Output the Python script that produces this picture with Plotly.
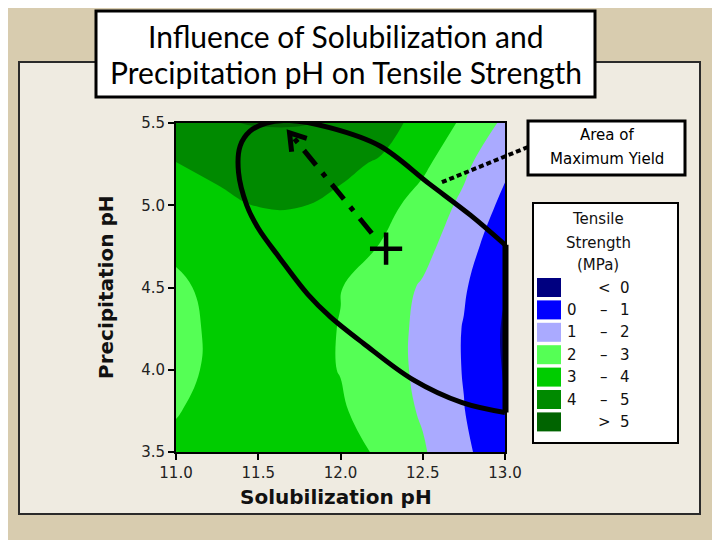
import plotly.graph_objects as go

# ------------------------------------------------------------
# Data (response surface, Tensile Strength MPa)
# ------------------------------------------------------------
sol_ph = [11.0, 11.25, 11.5, 11.75, 12.0, 12.25, 12.5, 12.75, 13.0]
prec_ph = [3.5, 3.75, 4.0, 4.25, 4.5, 4.75, 5.0, 5.25, 5.5]

# rows = prec_ph, columns = sol_ph
tensile = [
    [3.20, 3.40, 3.55, 3.45, 3.30, 2.88, 2.10, 1.20, 0.30],
    [2.95, 3.30, 3.45, 3.35, 3.12, 2.50, 1.90, 1.03, 0.03],
    [2.65, 3.25, 3.40, 3.30, 2.97, 2.40, 1.80, 0.95, -0.08],
    [2.60, 3.25, 3.40, 3.30, 2.97, 2.40, 1.80, 0.95, -0.12],
    [2.80, 3.30, 3.45, 3.40, 3.03, 2.50, 1.90, 1.10, 0.05],
    [3.20, 3.50, 3.65, 3.60, 3.40, 2.95, 2.30, 1.40, 0.35],
    [3.55, 3.80, 4.02, 4.03, 3.80, 3.35, 2.60, 1.80, 0.75],
    [3.97, 4.20, 4.55, 4.55, 4.20, 3.88, 3.20, 2.20, 1.20],
    [4.55, 4.95, 5.04, 5.04, 4.90, 4.40, 3.65, 2.85, 1.80],
]

band_colors = ["#000080", "#0000ff", "#aaaaff", "#55ff55", "#00cc00", "#008a00", "#006400"]
band_lo = ["", "0", "1", "2", "3", "4", ""]
band_sep = ["<", "\u2013", "\u2013", "\u2013", "\u2013", "\u2013", ">"]
band_hi = ["0", "1", "2", "3", "4", "5", "5"]

x_ticks = [11.0, 11.5, 12.0, 12.5, 13.0]
y_ticks = [3.5, 4.0, 4.5, 5.0, 5.5]

# hand-drawn marks on the slide (in axis units)
ellipse_x = [13.0, 12.74, 12.44, 12.14, 11.94, 11.80, 11.63, 11.50, 11.43, 11.38,
             11.39, 11.45, 11.55, 11.69, 11.94, 12.24, 12.54, 12.79, 13.0]
ellipse_y = [3.74, 3.80, 3.94, 4.16, 4.32, 4.46, 4.68, 4.86, 5.00, 5.20,
             5.36, 5.45, 5.50, 5.515, 5.47, 5.36, 5.13, 4.94, 4.76]
ellipse_cut_y = [3.74, 4.76]          # straight right-hand side at x = 13
arrow_x = [12.19, 11.695]
arrow_y = [4.83, 5.435]
head_x = [11.703, 11.69, 11.795]
head_y = [5.325, 5.44, 5.407]
center_x = [12.277]
center_y = [4.736]

# ------------------------------------------------------------
# Layout helpers (pixel positions on the slide -> paper)
# the page puts the figure 8px in from the corner, so the figure is 8px smaller
# ------------------------------------------------------------
OFF = 8
W, H = 720 - OFF, 540 - OFF
L, R, T, B = 176, 505, 123, 452


def px(x):
    return (x - L) / (R - L)


def py(y):
    return (B - y) / (B - T)


TEXT_FONT = "DejaVu Sans"

fig = go.Figure()

colorscale = [[k / (len(band_colors) - 1), c] for k, c in enumerate(band_colors)]
fig.add_trace(go.Contour(
    x=sol_ph, y=prec_ph, z=tensile,
    autocontour=False,
    contours=dict(start=0, end=5, size=1, coloring="fill", showlines=False),
    colorscale=colorscale,
    line=dict(width=0, smoothing=1.3),
    showscale=False, hoverinfo="skip",
))

# ellipse around the area of maximum yield
fig.add_trace(go.Scatter(
    x=ellipse_x, y=ellipse_y, mode="lines",
    line=dict(color="black", width=5, shape="spline", smoothing=1.0),
    showlegend=False, hoverinfo="skip",
))

# dash-dot arrow + open arrow head
fig.add_trace(go.Scatter(
    x=arrow_x, y=arrow_y, mode="lines",
    line=dict(color="black", width=5, dash="19px,10px,5px,10px"),
    showlegend=False, hoverinfo="skip",
))
fig.add_trace(go.Scatter(
    x=head_x, y=head_y, mode="lines",
    line=dict(color="black", width=5),
    showlegend=False, hoverinfo="skip",
))
fig.add_trace(go.Scatter(
    x=center_x, y=center_y, mode="markers",
    marker=dict(symbol="cross-thin", size=23, line=dict(color="black", width=4.5)),
    showlegend=False, hoverinfo="skip",
))

shapes = [
    # slide panel
    dict(type="rect", xref="paper", yref="paper", x0=px(19), x1=px(700), y0=py(514), y1=py(62),
         fillcolor="#efebe1", line=dict(color="#2a2a2a", width=2), layer="below"),
    # title box
    dict(type="rect", xref="paper", yref="paper", x0=px(96), x1=px(595), y0=py(97), y1=py(11),
         fillcolor="white", line=dict(color="black", width=3)),
    # "Area of Maximum Yield" box
    dict(type="rect", xref="paper", yref="paper", x0=px(528), x1=px(685), y0=py(175), y1=py(121),
         fillcolor="white", line=dict(color="black", width=3)),
    # dotted connector
    dict(type="line", xref="paper", yref="paper", x0=px(528), y0=py(147), x1=px(440), y1=py(183),
         line=dict(color="black", width=4, dash="5px,3px")),
    # ellipse cut at the right border
    dict(type="line", xref="paper", yref="paper", x0=px(505.5), x1=px(505.5),
         y0=(ellipse_cut_y[0] - prec_ph[0]) / (prec_ph[-1] - prec_ph[0]),
         y1=(ellipse_cut_y[1] - prec_ph[0]) / (prec_ph[-1] - prec_ph[0]),
         line=dict(color="black", width=6)),
    # legend box
    dict(type="rect", xref="paper", yref="paper", x0=px(533), x1=px(678), y0=py(443), y1=py(203),
         fillcolor="white", line=dict(color="black", width=2)),
]

annotations = []


def label(text, x, y, size=15, family=TEXT_FONT, color="#111", **kw):
    annotations.append(dict(text=text, x=px(x), y=py(y), xref="paper", yref="paper",
                            xanchor="center", yanchor="middle", showarrow=False,
                            font=dict(family=family, size=size, color=color), **kw))


label("Influence of Solubilization and", 345.5, 36, size=30, family="Lato", color="black")
label("Precipitation pH on Tensile Strength", 345.5, 72, size=30, family="Lato", color="black")

label("Area of", 606.5, 135, color="black")
label("Maximum Yield", 606.5, 159, color="black")

label("Tensile", 598, 219)
label("Strength", 598, 243)
label("(MPa)", 598, 265)

row0, step = 287.5, 22.4
for i, col in enumerate(band_colors):
    yc = row0 + i * step
    shapes.append(dict(type="rect", xref="paper", yref="paper",
                       x0=px(537), x1=px(561), y0=py(yc + 9.5), y1=py(yc - 9.5),
                       fillcolor=col, line=dict(width=0)))
    for txt, xx in [(band_lo[i], 571.5), (band_sep[i], 604), (band_hi[i], 625)]:
        if txt:
            label(txt, xx, yc)

# axis titles
label("<b>Solubilization pH</b>", 336, 497, size=20)
label("<b>Precipitation pH</b>", 106, 288, size=20, textangle=-90)

axis_common = dict(showline=True, linecolor="black", linewidth=2, mirror=True,
                   ticks="outside", ticklen=6, tickwidth=2, tickcolor="black",
                   showgrid=False, zeroline=False,
                   tickfont=dict(family=TEXT_FONT, size=15, color="#222"))

fig.update_layout(
    width=W, height=H,
    margin=dict(l=L - OFF, r=W - (R - OFF), t=T - OFF, b=H - (B - OFF)),
    paper_bgcolor="#d8ccaf",
    plot_bgcolor="#efebe1",
    shapes=shapes,
    annotations=annotations,
    showlegend=False,
    xaxis=dict(range=[sol_ph[0], sol_ph[-1]], tickvals=x_ticks,
               ticktext=[f"{v:.1f}" for v in x_ticks], **axis_common),
    yaxis=dict(range=[prec_ph[0], prec_ph[-1]], tickvals=y_ticks,
               ticktext=[f"{v:.1f}" for v in y_ticks], **axis_common),
)

fig.write_html("out.html")
